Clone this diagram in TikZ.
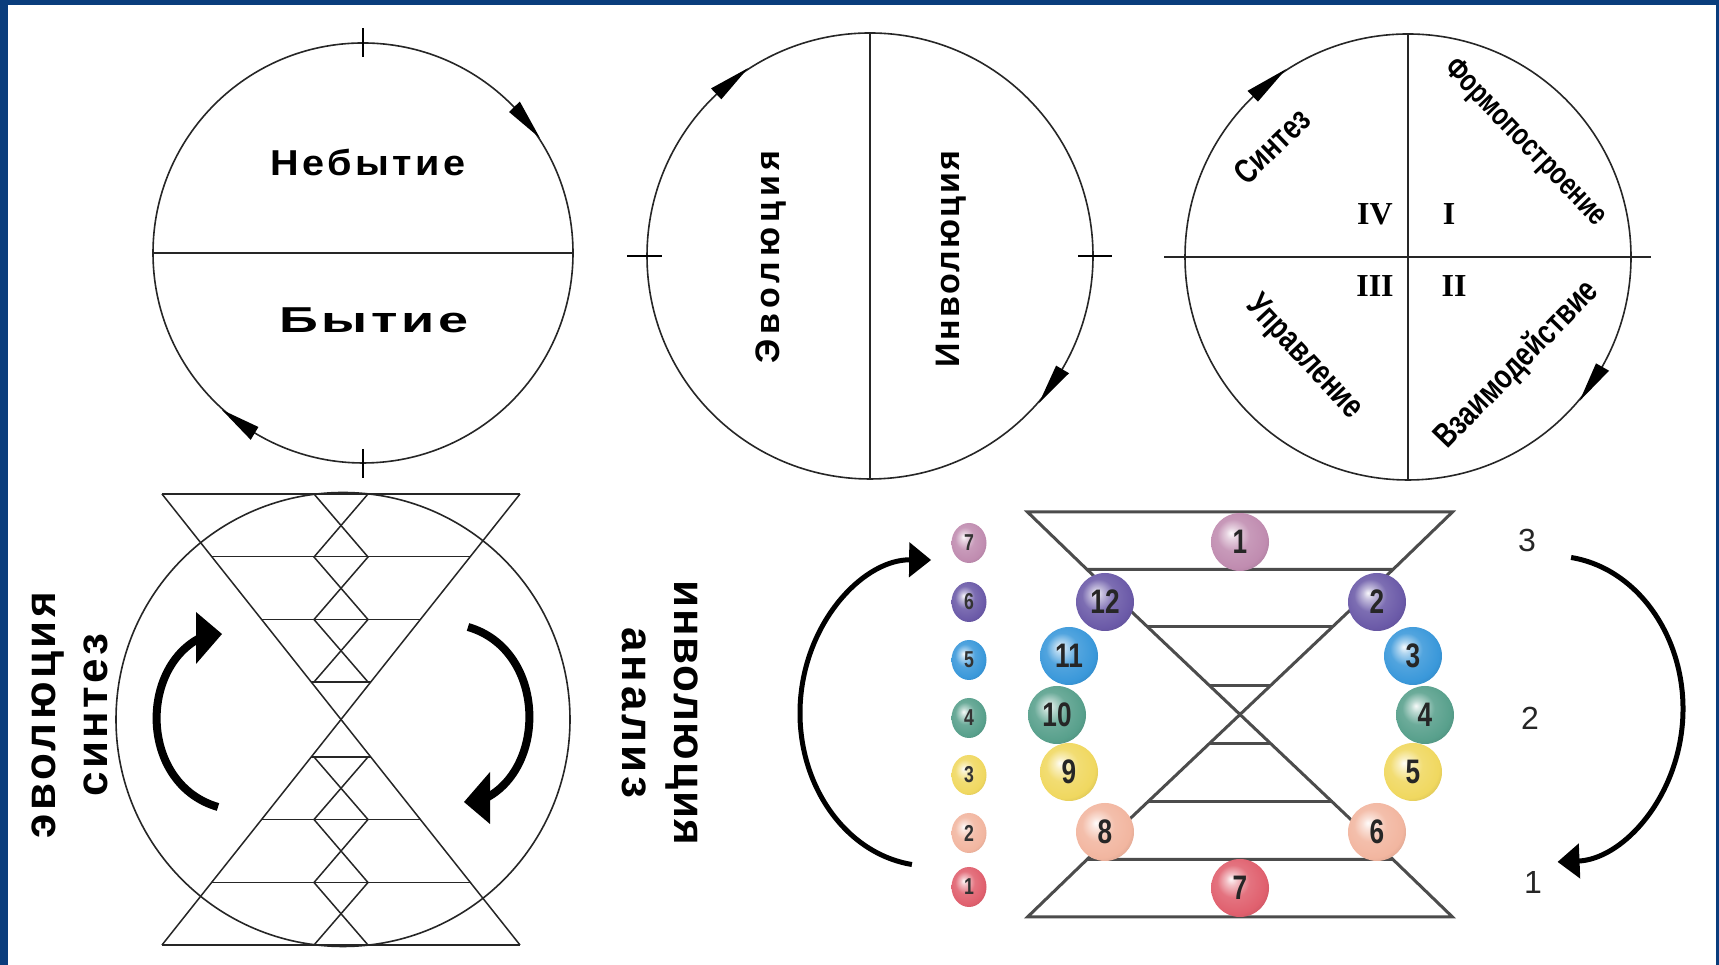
\documentclass[tikz,border=0pt]{standalone}
\usepackage{fontspec}
\setmainfont{Liberation Sans}
\newfontfamily\spacedf[LetterSpace=10,FakeStretch=1.1]{Liberation Sans}
\newfontfamily\spacedw[LetterSpace=10,FakeStretch=1.5]{Liberation Sans}
\newfontfamily\spacedv[LetterSpace=15]{Liberation Sans}
\newfontfamily\spacedu[LetterSpace=7]{Liberation Sans}
\newfontfamily\spacedg[LetterSpace=8]{Liberation Sans}
\newfontfamily\spacedh[LetterSpace=4]{Liberation Sans}
\newfontfamily\narrowb[FakeStretch=0.77]{Liberation Sans}
\newfontfamily\serifb{Liberation Serif}
\usetikzlibrary{calc,arrows.meta,shapes.geometric}
\newcommand\fsz[1]{\fontsize{#1}{#1}\selectfont}
\definecolor{framecol}{HTML}{0A3D7C}
\definecolor{rowA}{HTML}{C08CB0}
\definecolor{rowB}{HTML}{6B5AA8}
\definecolor{rowC}{HTML}{3A98DA}
\definecolor{rowD}{HTML}{58A08C}
\definecolor{rowE}{HTML}{F0D860}
\definecolor{rowF}{HTML}{F2B6A0}
\definecolor{rowG}{HTML}{E0606E}
\colorlet{mybc}{rowA}
\pgfdeclareradialshading[mybc]{softball}{\pgfpoint{-8bp}{8bp}}{%
  color(0bp)=(mybc!5!white); color(5bp)=(mybc!40!white); color(14bp)=(mybc!88!white);
  color(26bp)=(mybc); color(36bp)=(mybc!82!black); color(50bp)=(mybc!70!black)}
\tikzset{
  outl/.style={line width=1.6pt, draw=black!85},
  tickl/.style={line width=2.4pt, draw=black},
  hg/.style={line width=1.5pt, draw=black!85},
  hgr/.style={line width=3pt, draw=black!70},
  headf/.style={fill=black},
  shaft/.style={line width=8pt, draw=black},
  medarr/.style={line width=5pt, -{Triangle[length=22pt,width=34pt]}},
  toptxt/.style={font={\spacedf\bfseries\fsz{36}}, inner sep=0pt},
  widetxt/.style={font={\spacedw\bfseries\fsz{36}}, inner sep=0pt},
  qtxt/.style={font={\narrowb\bfseries\fsz{31}}, inner sep=0pt},
  qtxtb/.style={font={\narrowb\bfseries\fsz{34}}, inner sep=0pt},
  roman/.style={font={\serifb\bfseries\fsz{32}}, inner sep=0pt},
  bb/.style={/utils/exec={\colorlet{mybc}{#1}}, shading=softball},
  bigball/.style={circle, minimum size=58pt, inner sep=0pt, font={\narrowb\bfseries\fsz{34}}, text=black!85},
  smallball/.style={ellipse, minimum width=35pt, minimum height=40pt, inner sep=0pt, font={\narrowb\bfseries\fsz{23}}, text=black!80},
  lvl/.style={font={\fsz{32}}, inner sep=0pt, text=black!85}
}
\begin{document}
\begin{tikzpicture}[x=1pt,y=1pt]
\useasboundingbox (0,0) rectangle (1719,965);
\fill[framecol] (0,0) rectangle (1719,965);
\fill[white] (8,0) rectangle (1716,960);

% ---------- circle 1 ----------
\coordinate (c1) at (363,712);
\draw[outl] (c1) circle[radius=210];
\draw[outl] ($(c1)+(-210,0)$) -- ($(c1)+(210,0)$);
\draw[tickl] ($(c1)+(0,196)$) -- ($(c1)+(0,225)$);
\draw[tickl] ($(c1)+(0,-196)$) -- ($(c1)+(0,-225)$);
\fill[headf] ($(c1)+(33:211)$) -- ($(c1)+(44:203)$) -- ($(c1)+(44:218)$) -- cycle;
\fill[headf] ($(c1)+(228:211)$) -- ($(c1)+(239:203)$) -- ($(c1)+(239:218)$) -- cycle;
\node[toptxt] (nebyt) at (368,803) {Небытие};
\node[widetxt] (byt) at (374,645) {Бытие};

% ---------- circle 2 ----------
\coordinate (c2) at (870,709);
\draw[outl] (c2) circle[radius=223];
\draw[outl] ($(c2)+(0,223)$) -- ($(c2)+(0,-223)$);
\draw[tickl] ($(c2)+(-243,0)$) -- ($(c2)+(-208,0)$);
\draw[tickl] ($(c2)+(208,0)$) -- ($(c2)+(242,0)$);
\fill[headf] ($(c2)+(123:224)$) -- ($(c2)+(133.5:216)$) -- ($(c2)+(133.5:231)$) -- cycle;
\fill[headf] ($(c2)+(-41:224)$) -- ($(c2)+(-30.5:216)$) -- ($(c2)+(-30.5:231)$) -- cycle;
\node[font={\spacedv\bfseries\fsz{34}}, inner sep=0pt, rotate=90] (evol) at (771,708) {Эволюция};
\node[font={\spacedu\bfseries\fsz{34}}, inner sep=0pt, rotate=90] (invol) at (951,706) {Инволюция};

% ---------- circle 3 ----------
\coordinate (c3) at (1408,708);
\draw[outl] (c3) circle[radius=223];
\draw[outl] ($(c3)+(0,223)$) -- ($(c3)+(0,-223)$);
\draw[outl, line width=2pt] ($(c3)+(-244,0)$) -- ($(c3)+(243,0)$);
\fill[headf] ($(c3)+(123:224)$) -- ($(c3)+(134:216)$) -- ($(c3)+(134:231)$) -- cycle;
\fill[headf] ($(c3)+(-40:224)$) -- ($(c3)+(-29.5:216)$) -- ($(c3)+(-29.5:231)$) -- cycle;
\node[qtxtb, rotate=44] (sint) at (1272,819) {Синтез};
\node[qtxt, rotate=-46] (form) at (1525,822) {Формопостроение};
\node[qtxtb, rotate=-47] (upr) at (1304,607) {Управление};
\node[qtxtb, rotate=46] (vzaim) at (1517,600) {Взаимодействие};
\node[roman] (r4) at (1375,751) {IV};
\node[roman] (r1) at (1449,751) {I};
\node[roman] (r3) at (1375,679) {III};
\node[roman] (r2) at (1454,679) {II};

% ---------- bottom-left hourglass ----------
\coordinate (h) at (341,245.5);
\draw[outl] (343,245.5) circle[radius=227];
\draw[hg] (162,471) -- (520,471);
\draw[hg] (162,20) -- (520,20);
\draw[hg] (162,471) -- (520,20);
\draw[hg] (520,471) -- (162,20);
\foreach \o/\w in {163/129.4, 100/79.4, 37.5/29.8}{
  \draw[hg] ($(h)+(-\w,\o)$) -- ($(h)+(\w,\o)$);
  \draw[hg] ($(h)+(-\w,-\o)$) -- ($(h)+(\w,-\o)$);
}
\draw[hg] (314,471) -- (368,408) -- (314,345.5) -- (368,283);
\draw[hg] (368,471) -- (314,408) -- (368,345.5) -- (314,283);
\draw[hg] (314,208) -- (368,145.5) -- (314,82.5) -- (368,20);
\draw[hg] (368,208) -- (314,145.5) -- (368,82.5) -- (314,20);
% curved arrows
\coordinate (la0) at (218,158);
\coordinate (la1) at (198,326);
\coordinate (ra0) at (468,338);
\coordinate (ra1) at (488,168);
\draw[shaft] (la0) .. controls (142,180) and (138,292) .. (la1);
\fill[headf] ($(la1)+(-2,27)$) -- ($(la1)+(-2,-25)$) -- ($(la1)+(24,5)$) -- cycle;
\draw[shaft] (ra0) .. controls (544,316) and (548,202) .. (ra1);
\fill[headf] ($(ra1)+(2,-27)$) -- ($(ra1)+(2,25)$) -- ($(ra1)+(-24,-5)$) -- cycle;
\node[font={\spacedg\bfseries\fsz{44}}, inner sep=0pt, rotate=90] (evs1) at (48,250) {эволюция};
\node[font={\spacedg\bfseries\fsz{44}}, inner sep=0pt, rotate=90] (evs2) at (96,250) {синтез};
\node[font={\spacedh\bfseries\fsz{44}}, inner sep=0pt, rotate=-90] (inv1) at (682,252) {инволюция};
\node[font={\spacedg\bfseries\fsz{44}}, inner sep=0pt, rotate=-90] (inv2) at (634,252) {анализ};

% ---------- bottom-right hourglass ----------
\coordinate (g) at (1240,250.5);
\draw[hgr] (1027.5,453) -- (1452.5,453) -- (1393,395.5) -- (1087,395.5) -- cycle;
\draw[hgr] (1087,105.5) -- (1393,105.5) -- (1452.5,48) -- (1027.5,48) -- cycle;
\draw[hgr] (1087,395.5) -- (1393,105.5);
\draw[hgr] (1393,395.5) -- (1087,105.5);
\foreach \o/\w in {87.5/92.6, 29/30.7}{
  \draw[hgr] ($(g)+(-\w,\o)$) -- ($(g)+(\w,\o)$);
  \draw[hgr] ($(g)+(-\w,-\o)$) -- ($(g)+(\w,-\o)$);
}
\node[bigball, bb=rowA] (b1) at (1240,423) {1};
\node[bigball, bb=rowB] (b12) at (1105,363) {12};
\node[bigball, bb=rowB] (b2) at (1377,363) {2};
\node[bigball, bb=rowC] (b11) at (1069,309) {11};
\node[bigball, bb=rowC] (b3) at (1413,309) {3};
\node[bigball, bb=rowD] (b10) at (1057,250) {10};
\node[bigball, bb=rowD] (b4) at (1425,250) {4};
\node[bigball, bb=rowE] (b9) at (1069,193) {9};
\node[bigball, bb=rowE] (b5) at (1413,193) {5};
\node[bigball, bb=rowF] (b8) at (1105,133) {8};
\node[bigball, bb=rowF] (b6) at (1377,133) {6};
\node[bigball, bb=rowG] (b7) at (1240,77) {7};
\node[smallball, bb=rowA] (s7) at (969,422) {7};
\node[smallball, bb=rowB] (s6) at (969,363) {6};
\node[smallball, bb=rowC] (s5) at (969,305) {5};
\node[smallball, bb=rowD] (s4) at (969,247) {4};
\node[smallball, bb=rowE] (s3) at (969,190) {3};
\node[smallball, bb=rowF] (s2) at (969,132) {2};
\node[smallball, bb=rowG] (s1) at (969,78) {1};
\node[lvl] (l3) at (1527,425) {3};
\node[lvl] (l2) at (1530,247) {2};
\node[lvl] (l1) at (1533,83) {1};
\coordinate (e1) at (930,252);
\coordinate (e2) at (1553,256);
\draw[medarr] ($(e1)+(262:130 and 153)$) arc[start angle=262, end angle=89.5, x radius=130, y radius=153];
\draw[medarr] ($(e2)+(82:130 and 153)$) arc[start angle=82, end angle=-88, x radius=130, y radius=153];
\end{tikzpicture}
\end{document}
